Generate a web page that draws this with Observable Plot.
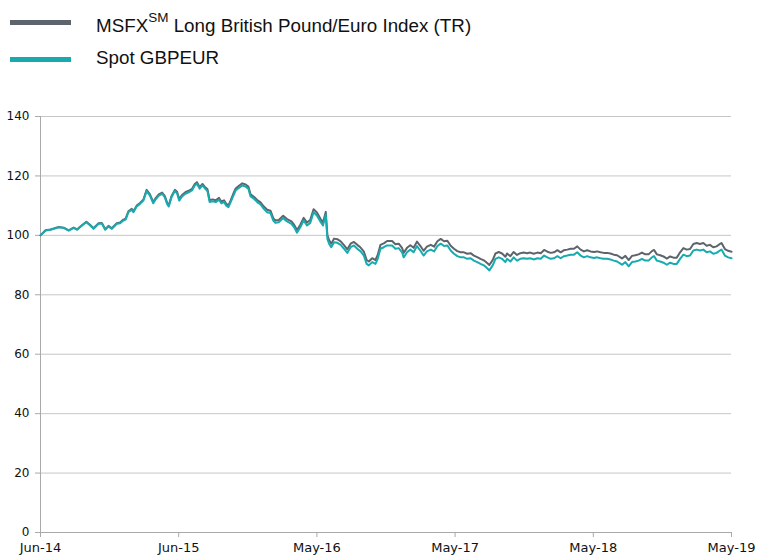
<!DOCTYPE html>
<html><head><meta charset="utf-8">
<script src="https://cdn.jsdelivr.net/npm/d3@7"></script>
<script src="https://cdn.jsdelivr.net/npm/@observablehq/plot@0.6"></script>
<style>
body{margin:0;background:#fff;}
#legend{display:block}
#chart svg{display:block}
</style>
</head><body>
<svg id="legend" width="757" height="90" xmlns="http://www.w3.org/2000/svg">
  <line x1="10" x2="71" y1="22.5" y2="22.5" stroke="#5d646b" stroke-width="5"/>
  <text x="96" y="32" font-family="Liberation Sans, Arial, sans-serif" font-size="18.8" fill="#111">MSFX<tspan dy="-10" font-size="13.5">SM</tspan><tspan dy="10"> Long British Pound/Euro Index (TR)</tspan></text>
  <line x1="10" x2="71" y1="59.5" y2="59.5" stroke="#17abb0" stroke-width="5"/>
  <text x="96" y="64" font-family="Liberation Sans, Arial, sans-serif" font-size="18.8" fill="#111">Spot GBPEUR</text>
</svg>
<div id="chart"></div>
<script>
// trading-day number since Jun-14
const days = [
0,9,18,24,33,42,51,60,66,75,
83,90,96,105,111,117,123,129,138,144,
150,154,159,165,168,174,180,186,192,198,
204,209,214,220,225,229,232,237,243,247,
251,256,262,268,274,279,283,288,293,297,
302,306,311,317,323,327,332,336,340,344,
349,353,359,365,371,376,380,386,392,398,
404,410,416,421,425,431,439,446,454,459,
464,470,476,482,488,494,500,507,511,516,
519,522,526,531,537,543,549,555,561,567,
573,579,585,590,594,600,606,610,615,621,
627,636,642,648,654,657,663,669,675,681,
687,693,699,706,712,718,724,730,736,742,
748,754,760,766,772,778,784,790,796,802,
808,812,818,823,829,835,841,844,850,856,
862,868,874,880,886,892,899,905,911,917,
923,929,935,941,947,953,959,965,971,977,
983,989,995,1001,1007,1013,1019,1025,1031,1037,
1043,1049,1052,1058,1064,1070,1076,1082,1088,1094,
1100,1106,1110,1115,1121,1127,1133,1139,1145,1151,
1157,1163,1169,1175,1181,1187,1193,1199,1205,1211,
1217,1223,1229,1232,1238,1244,1250
];
// Spot GBPEUR (rebased to 100)
const spot = [
100.0,101.6,101.9,102.2,102.7,102.5,101.6,102.5,101.9,103.3,
104.4,103.3,102.2,103.9,104.0,101.9,103.0,102.2,103.9,104.1,
105.0,105.3,107.8,108.6,107.8,109.7,110.6,111.7,114.9,113.4,
110.8,112.3,113.4,114.0,112.8,110.6,109.7,112.8,114.9,114.2,
111.7,113.1,114.0,114.5,115.1,116.8,117.4,115.7,116.8,115.9,
114.9,111.2,111.5,111.2,112.0,110.8,111.2,110.0,109.5,111.2,
113.4,115.1,116.0,116.8,116.4,115.7,113.1,112.3,111.2,110.4,
108.9,107.8,107.5,105.0,104.2,104.4,105.8,104.7,103.9,102.7,
100.9,102.7,105.0,103.3,104.2,107.8,106.7,104.4,103.3,106.9,
98.8,97.2,96.0,97.7,97.5,96.8,95.5,94.1,96.0,96.6,
95.5,94.6,93.2,90.4,89.9,91.0,90.4,92.1,95.5,96.0,
96.6,96.6,95.5,95.7,94.3,92.6,94.3,95.2,94.3,96.4,
94.9,93.2,94.6,95.2,94.6,96.4,97.2,96.4,96.6,94.9,
93.8,93.0,92.6,92.6,92.1,92.3,91.5,91.0,90.4,89.9,
88.9,88.2,89.9,92.1,92.6,92.1,91.0,92.1,91.2,92.6,
91.5,92.1,92.3,92.1,92.3,91.9,92.3,92.1,93.2,92.6,
92.1,92.3,93.0,92.3,93.0,93.2,93.5,93.5,94.3,93.2,
92.6,93.0,92.6,92.4,92.6,92.3,92.1,92.1,91.9,91.5,
91.2,90.5,90.1,91.0,89.6,91.0,91.2,91.5,92.1,91.5,
91.5,92.6,93.0,91.5,91.2,90.8,90.1,90.8,90.4,90.4,
92.1,93.5,93.0,93.2,94.9,95.2,94.9,95.2,94.3,94.6,
93.8,94.1,94.9,95.2,93.2,92.6,92.3
];
// MSFX Long British Pound/Euro Index (TR)
const msfx = [
100.0,101.7,102.0,102.3,102.8,102.6,101.7,102.6,102.0,103.4,
104.6,103.5,102.4,104.1,104.2,102.1,103.2,102.4,104.1,104.3,
105.3,105.6,108.1,108.9,108.1,110.0,110.9,112.0,115.3,113.8,
111.2,112.7,113.8,114.4,113.2,111.0,110.1,113.2,115.3,114.7,
112.2,113.6,114.5,115.0,115.6,117.3,117.9,116.2,117.3,116.4,
115.5,111.8,112.1,111.8,112.6,111.4,111.8,110.6,110.1,111.8,
114.1,115.8,116.7,117.5,117.1,116.4,113.8,113.0,111.9,111.1,
109.7,108.6,108.3,105.8,105.0,105.2,106.6,105.5,104.7,103.5,
101.8,103.6,105.9,104.3,105.2,108.8,107.7,105.4,104.3,107.9,
100.0,98.4,97.2,98.9,98.7,98.0,96.7,95.3,97.2,97.8,
96.8,95.9,94.5,91.7,91.2,92.3,91.7,93.4,96.8,97.3,
98.1,98.1,97.0,97.2,95.8,94.1,95.8,96.7,95.8,97.9,
96.5,94.8,96.2,96.8,96.2,98.0,98.8,98.0,98.2,96.5,
95.5,94.7,94.3,94.3,93.8,94.0,93.2,92.7,92.1,91.6,
90.7,90.0,91.7,93.9,94.4,93.9,92.8,93.9,93.0,94.4,
93.4,94.0,94.2,94.0,94.2,93.8,94.2,94.0,95.1,94.5,
94.1,94.3,95.0,94.3,95.0,95.2,95.5,95.5,96.3,95.2,
94.6,95.0,94.6,94.4,94.6,94.3,94.1,94.1,93.9,93.5,
93.3,92.6,92.2,93.1,91.7,93.1,93.3,93.6,94.2,93.6,
93.6,94.7,95.1,93.6,93.3,92.9,92.2,92.9,92.5,92.5,
94.3,95.7,95.2,95.4,97.1,97.4,97.1,97.4,96.5,96.8,
96.0,96.3,97.1,97.4,95.4,94.8,94.5
];
const xTickDays = [0,250,500,750,1000,1250];
const xTickLabels = ["Jun-14","Jun-15","May-16","May-17","May-18","May-19"];
const yTicks = [0,20,40,60,80,100,120,140];

const n = Math.min(days.length, spot.length, msfx.length);
const rows = [];
for (let i = 0; i < n; i++) rows.push({day: days[i], spot: spot[i], msfx: msfx[i]});

const axisColor = "#a9a9a9";
const chart = Plot.plot({
  width: 757,
  height: 466,
  marginTop: 26,
  marginBottom: 24,
  marginLeft: 40,
  marginRight: 26,
  style: {fontFamily: "DejaVu Sans, Verdana, sans-serif", fontSize: "12px", color: "#111", background: "#fff"},
  x: {domain: [0, 1250]},
  y: {domain: [0, 140]},
  marks: [
    Plot.gridY(yTicks.filter(d => d > 0), {stroke: "#c6c6c6", strokeOpacity: 1, strokeWidth: 1}),
    Plot.axisY({ticks: yTicks, tickSize: 5, tickPadding: 6, stroke: axisColor, fill: "#111", label: null}),
    Plot.axisX({ticks: xTickDays, tickFormat: d => xTickLabels[xTickDays.indexOf(d)], tickSize: 5, tickPadding: 5, stroke: axisColor, fill: "#111", label: null, fontSize: 13}),
    Plot.ruleX([0], {stroke: axisColor}),
    Plot.ruleY([0], {stroke: axisColor}),
    Plot.lineY(rows, {x: "day", y: "msfx", stroke: "#5d646b", strokeWidth: 2}),
    Plot.lineY(rows, {x: "day", y: "spot", stroke: "#17abb0", strokeWidth: 2})
  ]
});
document.getElementById("chart").appendChild(chart);
</script>
</body></html>
